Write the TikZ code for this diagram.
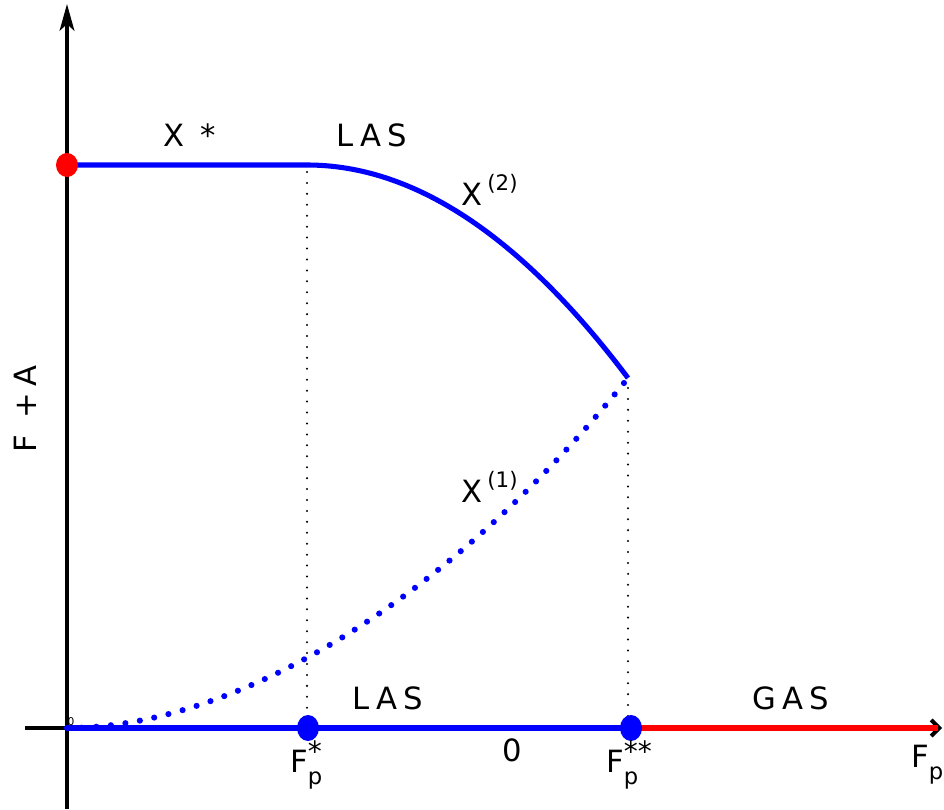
\documentclass[tikz,border=0pt]{standalone}
\usepackage{fontspec}
\setmainfont{DejaVu Sans}
\usetikzlibrary{arrows.meta}
\newcommand{\fpl}[1]{F\rlap{\raisebox{-0.4em}{\fontsize{17}{20}\selectfont p}}\raisebox{0.35em}{\fontsize{21}{24}\selectfont #1}}
\begin{document}
\begin{tikzpicture}[x=0.75pt,y=-0.75pt,
  axis/.style={black, line width=3pt},
  bl/.style={blue, line width=3.8pt},
  rl/.style={red, line width=3.8pt},
  dotcurve/.style={blue, line width=4.6pt, line cap=round, dash pattern=on 0pt off 11pt},
  guide/.style={black, line width=1.7pt, line cap=round, dash pattern=on 0pt off 8.2pt},
  lbl/.style={font=\fontsize{23}{27}\selectfont, inner sep=0pt},
  spaced/.style={font=\addfontfeature{LetterSpace=20}\fontsize{23}{27}\selectfont, inner sep=0pt}]
\useasboundingbox (0,0) rectangle (944,809);
% coordinates
\coordinate (O) at (67,728);
\coordinate (ybot) at (67,809);
\coordinate (ytop) at (67,4);
\coordinate (xl) at (25,728);
\coordinate (xr) at (942,728);
\coordinate (xend) at (938,728);
\coordinate (A) at (67,165);
\coordinate (B) at (307,165);
\coordinate (C) at (628,378);
\coordinate (D) at (308,728);
\coordinate (E) at (631,728);
\coordinate (Bd) at (307,172);
\coordinate (Dd) at (307,716);
\coordinate (Cd) at (628,388);
\coordinate (Ed) at (628,716);
% axes
\draw[axis, -{Stealth[length=20pt,width=11pt,inset=5pt]}] (ybot) -- (ytop);
\draw[axis, -{Straight Barb[length=6pt,width=12pt]}] (xl) -- (xr);
% guides
\draw[guide] (Bd) -- (Dd);
\draw[guide] (Cd) -- (Ed);
% curves
\draw[dotcurve] (O) .. controls (227,728) and (441,611) .. (C);
\draw[bl] (A) -- (B) .. controls (414,165) and (521,236) .. (C);
\draw[bl] (O) -- (E);
\draw[rl] (E) -- (xend);
% dots
\fill[red] (A) ellipse [x radius=11, y radius=12];
\fill[blue] (D) ellipse [x radius=11, y radius=13];
\fill[blue] (E) ellipse [x radius=11, y radius=13];
% labels
\node[spaced] (lxs) at (190,135) {X *};
\node[spaced] (las1) at (372,135) {LAS};
\node[lbl, anchor=west] (x2) at (461,190) {X\,\raisebox{0.5em}{\fontsize{16}{19}\selectfont (2)}};
\node[lbl, anchor=west] (x1) at (461,487) {X\,\raisebox{0.5em}{\fontsize{16}{19}\selectfont (1)}};
\node[spaced, rotate=90] (fa) at (25,409) {F +A};
\node[spaced] (las2) at (388,698) {LAS};
\node[spaced] (gas) at (791,698) {GAS};
\node[lbl] (zero) at (512,750) {0};
\node[lbl, font=\fontsize{8}{9}\selectfont, inner sep=0pt] (o) at (71,722) {0};
\node[lbl, anchor=west] (fp1) at (290,765) {\fpl{*}};
\node[lbl, anchor=west] (fp2) at (606,765) {\fpl{**}};
\node[lbl, anchor=west] (fp3) at (911,765) {\fpl{}};
\end{tikzpicture}
\end{document}
